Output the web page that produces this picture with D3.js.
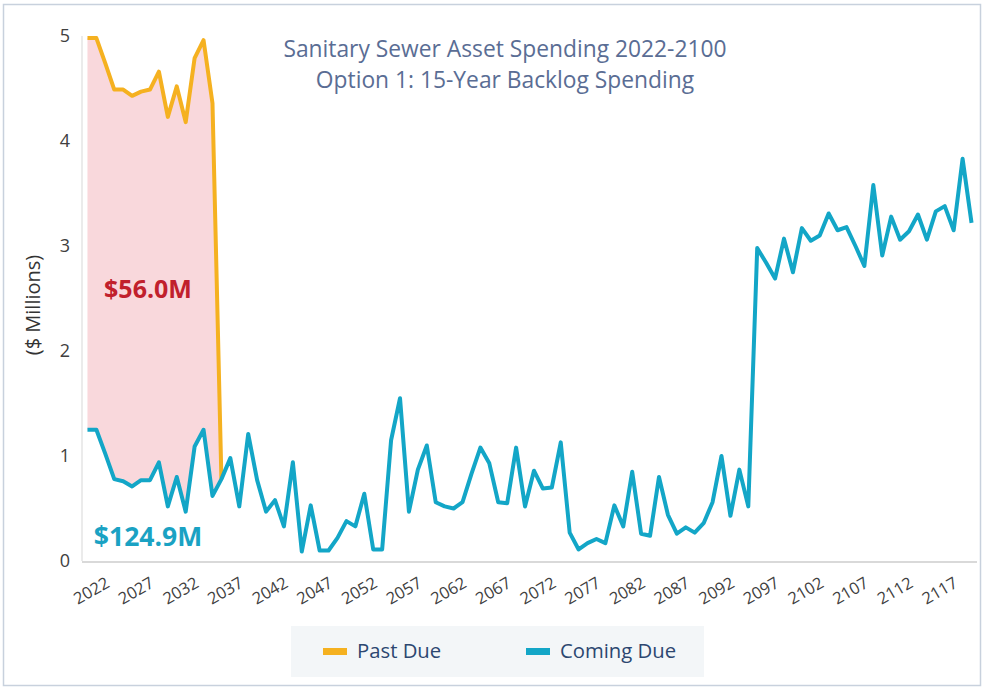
<!DOCTYPE html>
<html><head><meta charset="utf-8">
<script src="https://cdn.jsdelivr.net/npm/d3@7"></script>
<style>body{margin:0;background:#fff}svg{display:block}</style>
</head><body><svg id="c" width="984" height="689"></svg>
<script>
const years = [2022,2023,2024,2025,2026,2027,2028,2029,2030,2031,2032,2033,2034,2035,2036,2037,2038,2039,2040,2041,
2042,2043,2044,2045,2046,2047,2048,2049,2050,2051,2052,2053,2054,2055,2056,2057,2058,2059,2060,2061,
2062,2063,2064,2065,2066,2067,2068,2069,2070,2071,2072,2073,2074,2075,2076,2077,2078,2079,2080,2081,
2082,2083,2084,2085,2086,2087,2088,2089,2090,2091,2092,2093,2094,2095,2096,2097,2098,2099,2100,2101,
2102,2103,2104,2105,2106,2107,2108,2109,2110,2111,2112,2113,2114,2115,2116,2117,2118,2119,2120,2121];
const comingDue = [1.25,1.25,1.02,0.78,0.76,0.71,0.77,0.77,0.94,0.52,0.80,0.47,1.09,1.25,0.62,0.78,0.98,0.52,1.21,0.77,
0.47,0.58,0.33,0.94,0.09,0.53,0.10,0.10,0.22,0.38,0.33,0.64,0.11,0.11,1.15,1.55,0.47,0.87,1.10,0.56,
0.52,0.50,0.56,0.83,1.08,0.93,0.56,0.55,1.08,0.52,0.86,0.69,0.70,1.13,0.27,0.11,0.17,0.21,0.17,0.53,
0.33,0.85,0.26,0.24,0.80,0.44,0.26,0.32,0.27,0.36,0.56,1.00,0.43,0.87,0.52,2.98,2.84,2.69,3.07,2.75,
3.17,3.05,3.10,3.31,3.15,3.18,3.00,2.81,3.58,2.91,3.28,3.06,3.14,3.30,3.06,3.33,3.38,3.15,3.83,3.22];
// past-due backlog (first 16 years; zero afterwards)
const pastDue = [3.73,3.73,3.72,3.71,3.73,3.72,3.70,3.72,3.72,3.71,3.72,3.71,3.70,3.71,3.74,0];
const tickYears = [2022,2027,2032,2037,2042,2047,2052,2057,2062,2067,2072,2077,2082,2087,2092,2097,2102,2107,2112,2117];
const yTicks = [0,1,2,3,4,5];
const titleLines = ["Sanitary Sewer Asset Spending 2022-2100","Option 1: 15-Year Backlog Spending"];
const yAxisTitle = "($ Millions)";
const pastDueTotal = "$56.0M";
const comingDueTotal = "$124.9M";
const legendLabels = ["Past Due","Coming Due"];

const C = {orange:"#F5B120", teal:"#13A6C7", pink:"#F9D8DC", red:"#C1202C", tealText:"#1AA2C3",
  axis:"#D9D9D9", tick:"#404040", title:"#5A6D94", legendText:"#2C4770", legendBg:"#F3F6F8", frame:"#C8D1DD"};
const FONT = "'Open Sans', Lato, sans-serif";

const svg = d3.select("#c");
svg.append("rect").attr("x",3.5).attr("y",4.5).attr("width",977).attr("height",681)
  .attr("fill","#fff").attr("stroke",C.frame).attr("stroke-width",1.5);

const x = d3.scalePoint().domain(years).range([83,976]).padding(0.5);
const y = d3.scaleLinear().domain([0,5]).range([561,36]);

// axes lines
svg.append("line").attr("x1",82).attr("x2",82).attr("y1",y(5)).attr("y2",y(0))
  .attr("stroke","#E4E4E4").attr("stroke-width",1.5);
svg.append("line").attr("x1",82).attr("x2",977).attr("y1",562).attr("y2",562)
  .attr("stroke",C.axis).attr("stroke-width",2);

// y tick labels
const yAxis = d3.axisLeft(y).tickValues(yTicks).tickSize(0).tickPadding(0).tickFormat(d3.format("d"));
const gy = svg.append("g").attr("transform","translate(70,0)").call(yAxis);
gy.select(".domain").remove();
gy.selectAll("text").attr("font-family",FONT).attr("font-size",18).attr("fill",C.tick);

// x tick labels
const gx = svg.append("g").attr("transform","translate(0,562)")
  .call(d3.axisBottom(x).tickValues(tickYears).tickSize(0).tickFormat(d3.format("d")));
gx.select(".domain").remove();
gx.selectAll("text")
  .attr("font-family",FONT).attr("font-size",16.5).attr("fill",C.tick)
  .attr("text-anchor","middle").attr("dy",null).attr("y",null)
  .attr("dominant-baseline","central")
  .attr("transform","translate(3,28) rotate(-30)");

// stacked total
const idx = pastDue.map((_,i)=>i);
const total = i => comingDue[i] + pastDue[i];
svg.append("path").datum(idx)
  .attr("d", d3.area().x(i=>x(years[i])).y0(i=>y(comingDue[i])).y1(i=>y(total(i))))
  .attr("fill",C.pink);
svg.append("path").datum(idx)
  .attr("d", d3.line().x(i=>x(years[i])).y(i=>y(total(i))))
  .attr("fill","none").attr("stroke",C.orange).attr("stroke-width",4).attr("stroke-linejoin","round");
svg.append("path").datum(years)
  .attr("d", d3.line().x(d=>x(d)).y((d,i)=>y(comingDue[i])))
  .attr("fill","none").attr("stroke",C.teal).attr("stroke-width",4).attr("stroke-linejoin","round");

// annotations
svg.append("text").attr("x",148).attr("y",298).attr("text-anchor","middle")
  .attr("font-family",FONT).attr("font-weight",700).attr("font-size",25).attr("fill",C.red).text(pastDueTotal);
svg.append("text").attr("x",148).attr("y",546).attr("text-anchor","middle")
  .attr("font-family",FONT).attr("font-weight",700).attr("font-size",26.5).attr("fill",C.tealText).text(comingDueTotal);

// y-axis title
svg.append("text").attr("transform","translate(40,305) rotate(-90)").attr("text-anchor","middle")
  .attr("font-family",FONT).attr("font-size",20).attr("fill","#333").text(yAxisTitle);

// title
svg.selectAll(".ttl").data(titleLines).join("text").attr("class","ttl")
  .attr("x",505).attr("y",(d,i)=>57+i*31).attr("text-anchor","middle")
  .attr("font-family",FONT).attr("font-size",22.8).attr("fill",C.title).text(d=>d);

// legend
svg.append("rect").attr("x",291).attr("y",626).attr("width",413).attr("height",51).attr("fill",C.legendBg);
const legColors = [C.orange, C.teal];
const legX = [323, 526];
legendLabels.forEach((lab,i)=>{
  svg.append("rect").attr("x",legX[i]).attr("y",648).attr("width",24).attr("height",7).attr("fill",legColors[i]);
  svg.append("text").attr("x",legX[i]+34).attr("y",658).attr("font-family",FONT).attr("font-size",20.3)
    .attr("fill",C.legendText).text(lab);
});
</script></body></html>
